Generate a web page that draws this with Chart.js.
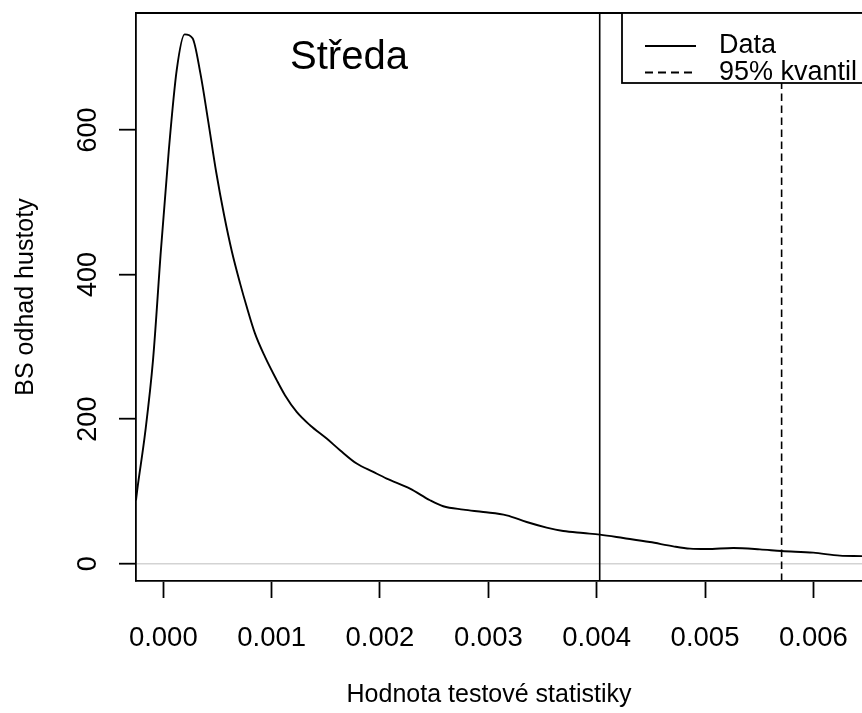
<!DOCTYPE html>
<html>
<head>
<meta charset="utf-8">
<script src="https://cdn.jsdelivr.net/npm/chart.js@4/dist/chart.umd.min.js"></script>
<style>
  html, body { margin: 0; padding: 0; background: #fff; overflow: hidden; }
  canvas { display: block; }
</style>
</head>
<body>
<canvas id="chart" width="862" height="713"></canvas>
<script>
// bootstrap density estimate of the test statistic
const statValues = [
  -0.000252, -0.000241, -0.000168, -0.000095, -0.000022, 0.000051, 0.000124, 0.000197,
  0.000270, 0.000342, 0.000415, 0.000488, 0.000561, 0.000634, 0.000708, 0.000770,
  0.000846, 0.000939, 0.001047, 0.001123, 0.001231, 0.001354, 0.001508, 0.001631,
  0.001785, 0.001938, 0.002062, 0.002277, 0.002462, 0.002584, 0.002769, 0.002953,
  0.003169, 0.003354, 0.003538, 0.003692, 0.003876, 0.004030, 0.004245, 0.004491,
  0.004707, 0.004861, 0.005015, 0.005261, 0.005507, 0.005707, 0.005999, 0.006245,
  0.006448, 0.006600
];
const densityValues = [
  87.7, 101.5, 180.5, 281.6, 433.9, 572.4, 683.2, 732.4,
  727.1, 678.7, 611.8, 542.0, 482.4, 431.2, 388.2, 355.4,
  318.6, 286.1, 253.9, 233.1, 210.0, 191.6, 173.1, 157.0,
  138.5, 126.9, 117.7, 103.9, 87.7, 79.4, 74.8, 71.5,
  66.9, 57.6, 49.9, 45.2, 42.4, 40.2, 35.5, 29.9,
  24.0, 20.8, 20.2, 21.6, 19.8, 17.5, 15.2, 11.1,
  10.4, 9.5
];

// observed statistic and the 95% bootstrap quantile
const observedStat = 0.004028;
const quantile95 = 0.005707;

const xRange = [-0.000252, 0.006449];
const yRange = [-24, 762];
const xTicks = [0, 0.001, 0.002, 0.003, 0.004, 0.005, 0.006];
const yTicks = [0, 200, 400, 600];

const legendLabels = ['Data', '95% kvantil'];
const panelTitle = 'Středa';
const xTitle = 'Hodnota testové statistiky';

const FONT = "'Liberation Sans', Arial, Helvetica, sans-serif";
Chart.defaults.font.family = FONT;
Chart.defaults.color = '#000';

const curve = statValues.map((x, i) => ({ x: x, y: densityValues[i] }));
const vline = x => [{ x: x, y: yRange[0] }, { x: x, y: yRange[1] }];

// box top, legend, panel label and x-axis title
const decorations = {
  id: 'decorations',
  afterDatasetsDraw(chart) {
    const { ctx, chartArea: a, scales } = chart;
    ctx.save();
    ctx.strokeStyle = '#000';
    ctx.lineWidth = 1.8;
    ctx.beginPath();
    ctx.moveTo(a.left, a.top);
    ctx.lineTo(a.right, a.top);
    ctx.stroke();

    // legend
    const lx = 622, ly = a.top, lh = 70;
    ctx.fillStyle = '#fff';
    ctx.fillRect(lx, ly, 400, lh);
    ctx.strokeRect(lx, ly, 400, lh);
    const rows = [ly + 33, ly + 59.5];
    ctx.beginPath();
    ctx.moveTo(645, rows[0]);
    ctx.lineTo(696, rows[0]);
    ctx.stroke();
    ctx.setLineDash([8, 5]);
    ctx.beginPath();
    ctx.moveTo(645, rows[1]);
    ctx.lineTo(696, rows[1]);
    ctx.stroke();
    ctx.setLineDash([]);
    ctx.fillStyle = '#000';
    ctx.font = '27px ' + FONT;
    ctx.textAlign = 'left';
    ctx.textBaseline = 'middle';
    legendLabels.forEach((t, i) => ctx.fillText(t, 719, rows[i]));

    // panel label
    ctx.font = '40px ' + FONT;
    ctx.textAlign = 'center';
    ctx.fillText(panelTitle, scales.x.getPixelForValue(0.001714), scales.y.getPixelForValue(700));

    // x-axis title, centred on the full plot region
    ctx.font = '25px ' + FONT;
    ctx.fillText(xTitle, 489, 695);
    ctx.restore();
  }
};

new Chart(document.getElementById('chart'), {
  type: 'line',
  data: {
    datasets: [
      {
        label: 'Data',
        data: curve,
        borderColor: '#000',
        borderWidth: 1.9,
        pointRadius: 0,
        cubicInterpolationMode: 'monotone'
      },
      {
        label: 'stat',
        data: vline(observedStat),
        borderColor: '#000',
        borderWidth: 1.6,
        pointRadius: 0
      },
      {
        label: '95% kvantil',
        data: vline(quantile95),
        borderColor: '#000',
        borderWidth: 1.6,
        borderDash: [7.5, 4.5],
        pointRadius: 0
      }
    ]
  },
  options: {
    responsive: false,
    animation: false,
    devicePixelRatio: 1,
    layout: { padding: { top: 13, right: 0, bottom: 0, left: 0 } },
    plugins: {
      legend: { display: false },
      tooltip: { enabled: false }
    },
    scales: {
      x: {
        type: 'linear',
        min: xRange[0],
        max: xRange[1],
        afterFit(s) {
          s.height = 132;
          s.paddingLeft = 0;
          s.paddingRight = 0;
        },
        afterBuildTicks(s) { s.ticks = xTicks.map(v => ({ value: v })); },
        ticks: {
          font: { size: 27.5 },
          color: '#000',
          padding: 24,
          maxRotation: 0,
          callback: v => v.toFixed(3)
        },
        grid: {
          drawOnChartArea: false,
          tickLength: 17,
          tickColor: '#000',
          tickWidth: 1.8
        },
        border: { display: true, color: '#000', width: 1.8 },
        title: { display: false }
      },
      y: {
        type: 'linear',
        min: yRange[0],
        max: yRange[1],
        afterFit(s) {
          s.width = 136;
          s.paddingTop = 0;
          s.paddingBottom = 0;
        },
        afterBuildTicks(s) { s.ticks = yTicks.map(v => ({ value: v })); },
        ticks: {
          font: { size: 27 },
          color: '#000',
          padding: 8,
          minRotation: 90,
          maxRotation: 90,
          crossAlign: 'center'
        },
        grid: {
          color: c => (c.tick && c.tick.value === 0) ? '#d3d3d3' : 'rgba(0,0,0,0)',
          lineWidth: 1.4,
          tickLength: 17,
          tickColor: '#000',
          tickWidth: 1.8
        },
        border: { display: true, color: '#000', width: 1.8 },
        title: {
          display: true,
          text: 'BS odhad hustoty',
          font: { size: 25 },
          color: '#000',
          padding: { top: 11, bottom: 0 }
        }
      }
    }
  },
  plugins: [decorations]
});
</script>
</body>
</html>
